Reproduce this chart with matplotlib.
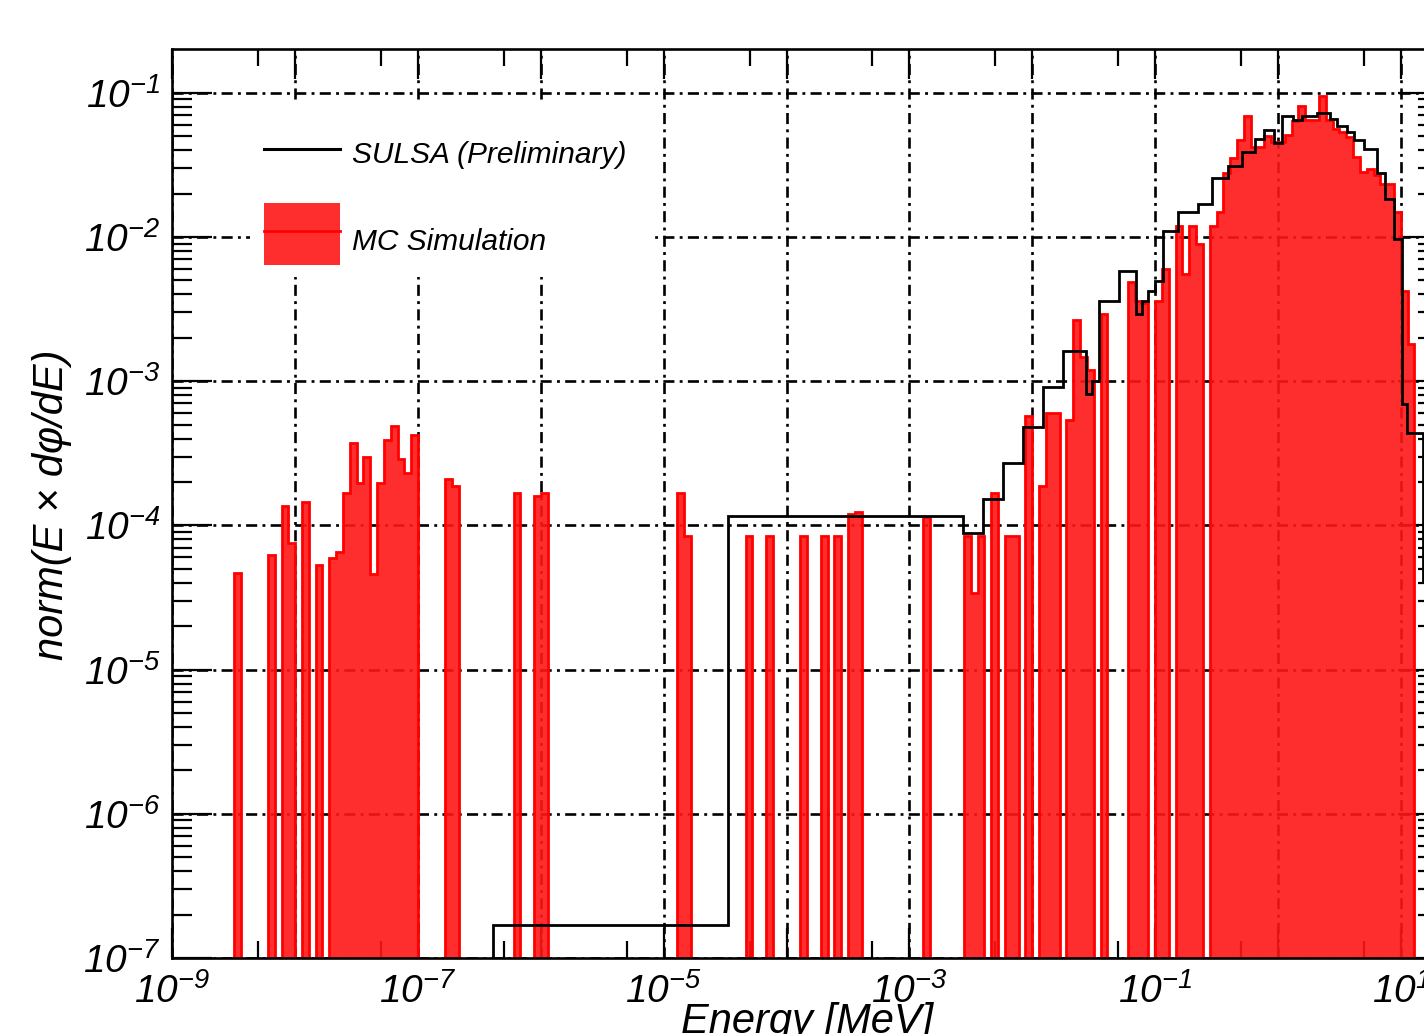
import numpy as np
import matplotlib
matplotlib.use("Agg")
import matplotlib.pyplot as plt
from matplotlib.ticker import FixedLocator, FuncFormatter, NullFormatter
from matplotlib.patches import Rectangle
from matplotlib.lines import Line2D

# MC simulation histogram: 18 log bins per decade starting at 1e-9 MeV
bins_per_decade = 18
n_bins = 182
mc_bin = [9, 14, 16, 17, 19, 21, 23, 24, 25, 26, 27, 28, 29, 30, 31, 32, 33, 34, 35,
          40, 41, 50, 53, 54, 74, 75, 84, 87, 92, 95, 97, 99, 100, 110,
          116, 117, 118, 120, 122, 123, 125, 127, 128, 129, 131, 132, 133, 134,
          136, 140, 141, 142, 144, 145, 147, 148, 149, 150,
          152, 153, 154, 155, 156, 157, 158, 159, 160, 161, 162, 163, 164, 165,
          166, 167, 168, 169, 170, 171, 172, 173, 174, 175, 176, 177, 178, 179,
          180, 181]
mc_val = [4.7e-5, 6.2e-5, 1.36e-4, 7.6e-5, 1.46e-4, 5.3e-5, 5.9e-5, 6.5e-5, 1.68e-4,
          3.7e-4, 1.97e-4, 3.0e-4, 4.6e-5, 1.97e-4, 3.9e-4, 4.9e-4, 2.9e-4, 2.3e-4, 4.2e-4,
          2.1e-4, 1.87e-4, 1.67e-4, 1.6e-4, 1.67e-4, 1.67e-4, 8.4e-5, 8.4e-5, 8.4e-5,
          8.4e-5, 8.4e-5, 8.4e-5, 1.19e-4, 1.23e-4, 1.14e-4,
          8.4e-5, 3.4e-5, 8.4e-5, 1.67e-4, 8.4e-5, 8.4e-5, 5.7e-4, 1.87e-4, 6.0e-4, 6.0e-4,
          5.35e-4, 2.64e-3, 1.46e-3, 1.19e-3,
          2.93e-3, 4.9e-3, 3.57e-3, 3.48e-3, 3.57e-3, 6.0e-3, 1.2e-2, 5.5e-3, 1.2e-2, 8.9e-3,
          1.2e-2, 1.5e-2, 2.76e-2, 3.5e-2, 4.73e-2, 6.93e-2, 4.23e-2, 4.23e-2, 5.04e-2,
          4.58e-2, 4.58e-2, 5.12e-2, 6.4e-2, 8.13e-2,
          6.5e-2, 6.5e-2, 9.5e-2, 6.5e-2, 5.63e-2, 5.37e-2, 4.96e-2, 3.6e-2, 2.84e-2,
          2.98e-2, 2.7e-2, 2.34e-2, 2.34e-2, 1.5e-2,
          4.2e-3, 1.8e-3]

# SULSA unfolded spectrum (log10 of bin edges in MeV)
sulsa_logE = [-6.387, -4.474, -2.561, -2.401, -2.236, -2.073, -1.915, -1.752, -1.560,
              -1.510, -1.455, -1.294, -1.155, -1.103, -1.055, -1.001, -0.938, -0.811,
              -0.648, -0.539, -0.404, -0.295, -0.187, -0.114, -0.032, 0.031, 0.120,
              0.193, 0.315, 0.424, 0.483, 0.560, 0.619, 0.701, 0.809, 0.871, 0.945,
              1.007, 1.048, 1.181, 1.40]
sulsa_vals = [1.69e-7, 1.16e-4, 8.83e-5, 1.53e-4, 2.72e-4, 4.83e-4, 9.06e-4, 1.63e-3,
              8.1e-4, 1.01e-3, 3.59e-3, 5.78e-3, 2.92e-3, 3.59e-3, 4.21e-3, 4.93e-3,
              1.095e-2, 1.48e-2, 1.68e-2, 2.57e-2, 3.12e-2, 3.86e-2, 4.78e-2, 5.54e-2,
              4.48e-2, 6.93e-2, 6.47e-2, 6.93e-2, 7.19e-2, 6.58e-2, 5.84e-2, 5.31e-2,
              4.73e-2, 4.07e-2, 2.78e-2, 1.84e-2, 9.6e-3, 6.98e-4, 4.35e-4, 4.04e-5]

x_label_exps = [-9, -7, -5, -3, -1, 1]

plt.rcParams["font.family"] = ["Liberation Sans", "DejaVu Sans"]
plt.rcParams["font.style"] = "italic"

MC_FACE = (1.0, 0.09, 0.09, 0.9)
GRID_STYLE = (0, (4.2, 2.0, 1.1, 2.0))
FLOOR = 1e-9


def exp_label(v, pos):
    e = int(round(np.log10(v)))
    if e not in x_label_exps:
        return ""
    return r"$\mathdefault{10^{%d}}$" % e


def y_label(v, pos):
    return r"$\mathdefault{10^{%d}}$" % int(round(np.log10(v)))


fig = plt.figure(figsize=(14.24, 10.34), dpi=100)
ax = fig.add_axes([172.3 / 1424, 76 / 1034, 1265.5 / 1424, 908.7 / 1034])
ax.set_xscale("log")
ax.set_yscale("log")
ax.set_xlim(1e-9, 20)
ax.set_ylim(1e-7, 0.2)

# dash-dot grid at every decade, kept under the histogram
for e in range(-9, 2):
    ax.axvline(10.0 ** e, color="black", lw=1.9, ls=GRID_STYLE, zorder=0.5)
for e in range(-7, 0):
    ax.axhline(10.0 ** e, color="black", lw=1.9, ls=GRID_STYLE, zorder=0.5)

# MC histogram
mc_edges = 10.0 ** (-9 + np.arange(n_bins + 1) / bins_per_decade)
mc_hist = np.zeros(n_bins)
mc_hist[mc_bin] = mc_val
ax.stairs(np.where(mc_hist > 0, mc_hist, FLOOR), mc_edges, baseline=FLOOR, fill=True,
          facecolor=MC_FACE, edgecolor="red", linewidth=2.0, zorder=2)

# SULSA step line
ax.stairs(sulsa_vals, 10.0 ** np.array(sulsa_logE), baseline=FLOOR,
          color="black", linewidth=2.0, zorder=4)

# axes and ticks
ax.xaxis.set_major_locator(FixedLocator(10.0 ** np.arange(-9, 2)))
ax.xaxis.set_minor_locator(FixedLocator(5 * 10.0 ** np.arange(-9, 2)))
ax.xaxis.set_major_formatter(FuncFormatter(exp_label))
ax.xaxis.set_minor_formatter(NullFormatter())

y_minor = [k * 10.0 ** e for e in range(-7, -1) for k in range(2, 10)]
ax.yaxis.set_major_locator(FixedLocator(10.0 ** np.arange(-7, 0)))
ax.yaxis.set_minor_locator(FixedLocator(y_minor))
ax.yaxis.set_major_formatter(FuncFormatter(y_label))
ax.yaxis.set_minor_formatter(NullFormatter())

ax.tick_params(which="both", direction="in", top=True, right=True, width=1.6, color="black")
ax.tick_params(axis="x", which="major", length=21.6, pad=11, labelsize=28)
ax.tick_params(axis="x", which="minor", length=12)
ax.tick_params(axis="y", which="major", length=28.8, pad=8.6, labelsize=28)
ax.tick_params(axis="y", which="minor", length=14.4)
for sp in ax.spines.values():
    sp.set_linewidth(1.9)
    sp.set_zorder(5)

ax.set_xlabel("Energy [MeV]", fontsize=30)
ax.xaxis.set_label_coords(0.5015, -0.0484)
ax.set_ylabel("norm(E × dφ/dE)", fontsize=30)
ax.yaxis.set_label_coords(-0.0793, 0.4985)

# legend on a white box that hides the grid behind it
ax.add_patch(Rectangle((0.0614, 0.7494), 0.3176, 0.1904, transform=ax.transAxes,
                       facecolor="white", edgecolor="none", zorder=3))
ax.add_line(Line2D([0.0725, 0.1326], [0.8903, 0.8903], transform=ax.transAxes,
                   color="black", lw=2.2, zorder=4))
ax.add_patch(Rectangle((0.0725, 0.7626), 0.0601, 0.0682, transform=ax.transAxes,
                       facecolor=MC_FACE, edgecolor="none", zorder=4))
ax.add_line(Line2D([0.0725, 0.1326], [0.8001, 0.8001], transform=ax.transAxes,
                   color="red", lw=2, zorder=4))
ax.text(0.1420, 0.8744, "SULSA (Preliminary)", transform=ax.transAxes,
        va="baseline", fontsize=21.5, zorder=4)
ax.text(0.1420, 0.7791, "MC Simulation", transform=ax.transAxes,
        va="baseline", fontsize=21.5, zorder=4)

fig.savefig("out.png", dpi=100)
plt.close(fig)
